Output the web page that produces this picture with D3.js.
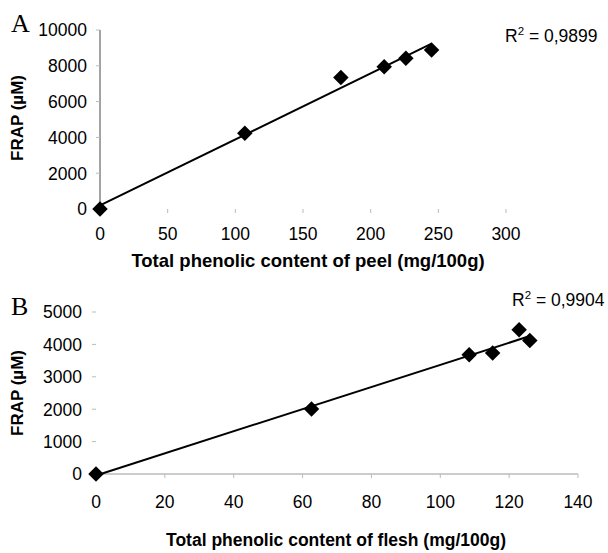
<!DOCTYPE html>
<head>
  <meta charset="utf-8">
  <script src="https://d3js.org/d3.v7.min.js"></script>
  <style>
    body { margin: 0; background: #fff; }
    svg { font-family: "Liberation Sans", Arial, sans-serif; }
    .tick-label { font-size: 17.5px; fill: #000; }
    .axis-title { font-weight: bold; fill: #000; }
    .panel-letter { font-family: "Liberation Serif", "Times New Roman", serif; font-size: 26px; }
    .r2 { font-size: 17.5px; }
  </style>
</head>
<body>
<div id="chart"></div>
<script>

// panel A: peel
var peelX = [0, 107, 178, 210, 226, 245];
var peelY = [0, 4230, 7340, 7950, 8420, 8880];
var peelXTicks = [0, 50, 100, 150, 200, 250, 300];
var peelYTicks = [0, 2000, 4000, 6000, 8000, 10000];

// panel B: flesh
var fleshX = [0, 62.6, 108.4, 115.2, 122.9, 126];
var fleshY = [0, 2006, 3682, 3734, 4454, 4123];
var fleshXTicks = [0, 20, 40, 60, 80, 100, 120, 140];
var fleshYTicks = [0, 1000, 2000, 3000, 4000, 5000];

var width = 608, height = 553;

var svg = d3.select("#chart").append("svg")
    .attr("width", width)
    .attr("height", height);

function fit(xs, ys) {
  var mx = d3.mean(xs), my = d3.mean(ys);
  var sxy = d3.sum(xs, function(d, i) { return (d - mx) * (ys[i] - my); });
  var sxx = d3.sum(xs, function(d) { return (d - mx) * (d - mx); });
  var b = sxy / sxx;
  return { slope: b, intercept: my - b * mx };
}

function panel(opt) {
  var x = d3.scaleLinear().domain(opt.xDomain).range(opt.xRange);
  var y = d3.scaleLinear().domain(opt.yDomain).range(opt.yRange);
  var g = svg.append("g");

  // axis lines (the scan shows only one of them per panel)
  if (opt.showY) {
    g.append("line")
      .attr("x1", x(0)).attr("x2", x(0))
      .attr("y1", y.range()[0]).attr("y2", y.range()[1])
      .attr("stroke", "#666").attr("stroke-width", 1.2);
  }
  if (opt.showX) {
    g.append("line")
      .attr("x1", x.range()[0]).attr("x2", x.range()[1])
      .attr("y1", y(0)).attr("y2", y(0))
      .attr("stroke", "#999").attr("stroke-width", 1.2);
  }

  // tick marks
  g.selectAll(".ytick").data(opt.yTicks).enter().append("line")
    .attr("x1", x(0) - 4).attr("x2", x(0))
    .attr("y1", function(d) { return y(d); })
    .attr("y2", function(d) { return y(d); })
    .attr("stroke", "#bbb");
  g.selectAll(".xtick").data(opt.xTicks.slice(1)).enter().append("line")
    .attr("x1", function(d) { return x(d); })
    .attr("x2", function(d) { return x(d); })
    .attr("y1", y(0)).attr("y2", y(0) + 4)
    .attr("stroke", "#bbb");

  // tick labels
  g.selectAll(".ylab").data(opt.yTicks).enter().append("text")
    .attr("class", "tick-label")
    .attr("x", x(0) - opt.yLabGap)
    .attr("y", function(d) { return y(d); })
    .attr("dy", "0.36em")
    .attr("text-anchor", "end")
    .text(function(d) { return d; });
  g.selectAll(".xlab").data(opt.xTicks).enter().append("text")
    .attr("class", "tick-label")
    .attr("x", function(d) { return x(d); })
    .attr("y", opt.xLabY)
    .attr("text-anchor", "middle")
    .text(function(d) { return d; });

  // trend line
  var f = fit(opt.xs, opt.ys);
  var x0 = d3.min(opt.xs), x1 = d3.max(opt.xs);
  g.append("line")
    .attr("x1", x(x0)).attr("y1", y(f.intercept + f.slope * x0))
    .attr("x2", x(x1)).attr("y2", y(f.intercept + f.slope * x1))
    .attr("stroke", "#000").attr("stroke-width", 2);

  // markers
  var diamond = d3.symbol().type(d3.symbolSquare).size(120);
  g.selectAll(".pt").data(opt.xs).enter().append("path")
    .attr("d", diamond)
    .attr("transform", function(d, i) {
      return "translate(" + x(d) + "," + y(opt.ys[i]) + ") rotate(45)";
    })
    .attr("fill", "#000");

  // titles
  g.append("text")
    .attr("class", "axis-title")
    .attr("x", opt.xTitleX).attr("y", opt.xTitleY)
    .attr("text-anchor", "middle")
    .style("font-size", opt.xTitleSize)
    .text(opt.xTitle);
  g.append("text")
    .attr("class", "axis-title")
    .attr("transform", "translate(" + 23 + "," + opt.yTitleY + ") rotate(-90)")
    .attr("text-anchor", "middle")
    .style("font-size", "17px")
    .text("FRAP (\u00b5M)");

  g.append("text")
    .attr("class", "panel-letter")
    .attr("x", 11).attr("y", opt.letterY)
    .text(opt.letter);

  var r2 = g.append("text")
    .attr("class", "r2")
    .attr("x", opt.r2X).attr("y", opt.r2Y);
  r2.append("tspan").text("R");
  r2.append("tspan").attr("dy", -7).style("font-size", "11.5px").text("2");
  r2.append("tspan").attr("dy", 7).text(" = " + opt.r2);
}

panel({
  xs: peelX, ys: peelY, xTicks: peelXTicks, yTicks: peelYTicks,
  xDomain: [0, 300], xRange: [100, 506],
  yDomain: [0, 10000], yRange: [209, 30],
  showY: true, showX: false, yLabGap: 13, xLabY: 240,
  xTitle: "Total phenolic content of peel (mg/100g)", xTitleX: 308, xTitleY: 267, xTitleSize: "18.5px",
  yTitleY: 118, letter: "A", letterY: 32,
  r2: "0,9899", r2X: 505, r2Y: 42
});

panel({
  xs: fleshX, ys: fleshY, xTicks: fleshXTicks, yTicks: fleshYTicks,
  xDomain: [0, 140], xRange: [96, 578],
  yDomain: [0, 5000], yRange: [474, 312],
  showY: false, showX: true, yLabGap: 14, xLabY: 508,
  xTitle: "Total phenolic content of flesh (mg/100g)", xTitleX: 336, xTitleY: 546, xTitleSize: "17.5px",
  yTitleY: 393, letter: "B", letterY: 315,
  r2: "0,9904", r2X: 512, r2Y: 306
});

</script>
</body>
